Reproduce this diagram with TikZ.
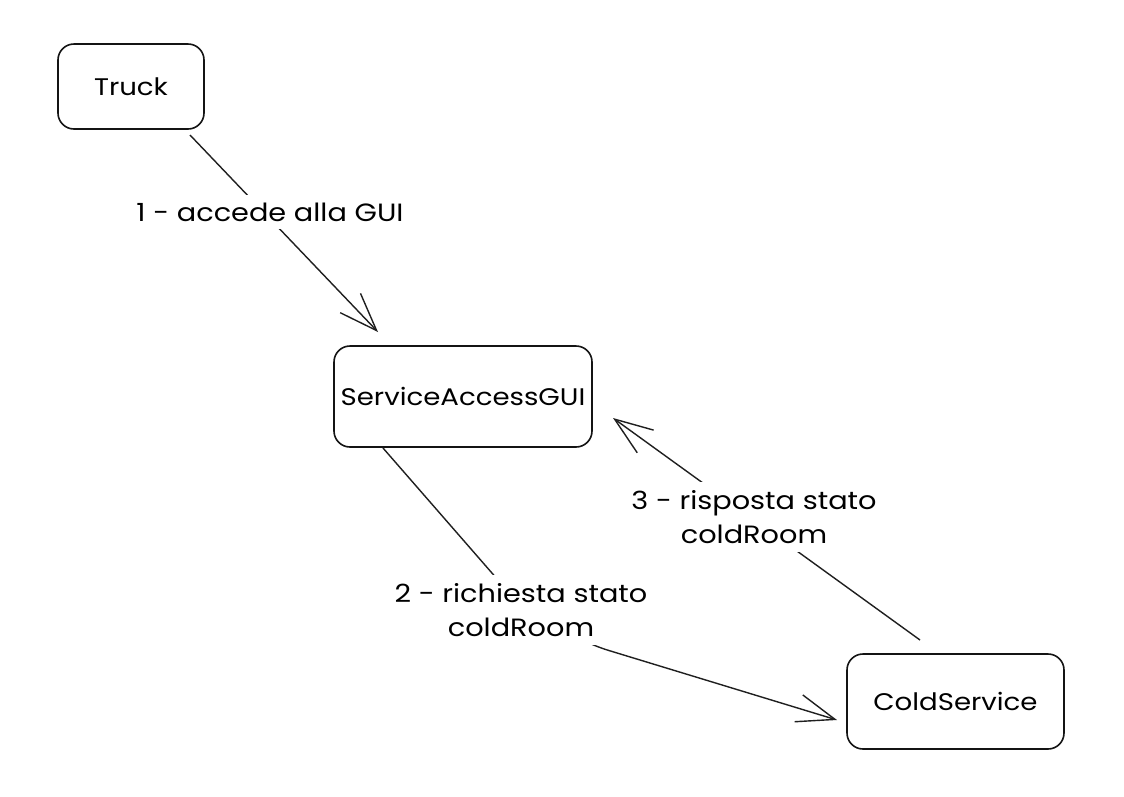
\documentclass[tikz,border=0pt]{standalone}
\usepackage{fontspec}
\setmainfont{Poppins}[FakeStretch=1.15]
\usetikzlibrary{arrows.meta}
\begin{document}
\begin{tikzpicture}[x=1pt,y=-1pt,
  box/.style={draw=black!92, line width=1.6pt, rounded corners=16pt, inner sep=0pt,
    font=\fontsize{24}{28}\selectfont},
  conn/.style={draw=black!88, line width=1.4pt,
    -{Straight Barb[length=38pt,width=28pt,line width=1.4pt]}},
  lbl/.style={fill=white, inner xsep=6pt, inner ysep=8pt, align=center,
    font=\fontsize{25}{34}\selectfont}]
\useasboundingbox[fill=white] (0,0) rectangle (1124,796);
% boxes
\node[box, minimum width=146pt, minimum height=85pt] (truck) at (131,86.5) {Truck};
\node[box, minimum width=258pt, minimum height=101pt] (gui) at (463,396.5) {ServiceAccessGUI};
\node[box, minimum width=217pt, minimum height=95pt] (cold) at (955.5,701.5) {ColdService};
% connector end points
\coordinate (a1s) at (190,135);
\coordinate (a1e) at (378,332);
\coordinate (a2s) at (383,448);
\coordinate (a2b) at (541.6,630);
\coordinate (a2e) at (837,720);
\coordinate (a3s) at (920,640);
\coordinate (a3e) at (613,418);
% connectors
\draw[conn] (a1s) -- (a1e);
\draw[conn, rounded corners=70pt] (a2s) -- (a2b) -- (a2e);
\draw[conn] (a3s) -- (a3e);
% labels
\node[lbl] (l1) at (270,212) {1 - accede alla GUI};
\node[lbl] (l2) at (521,610) {2 - richiesta stato\\coldRoom};
\node[lbl] (l3) at (754,517) {3 - risposta stato\\coldRoom};
\end{tikzpicture}
\end{document}
